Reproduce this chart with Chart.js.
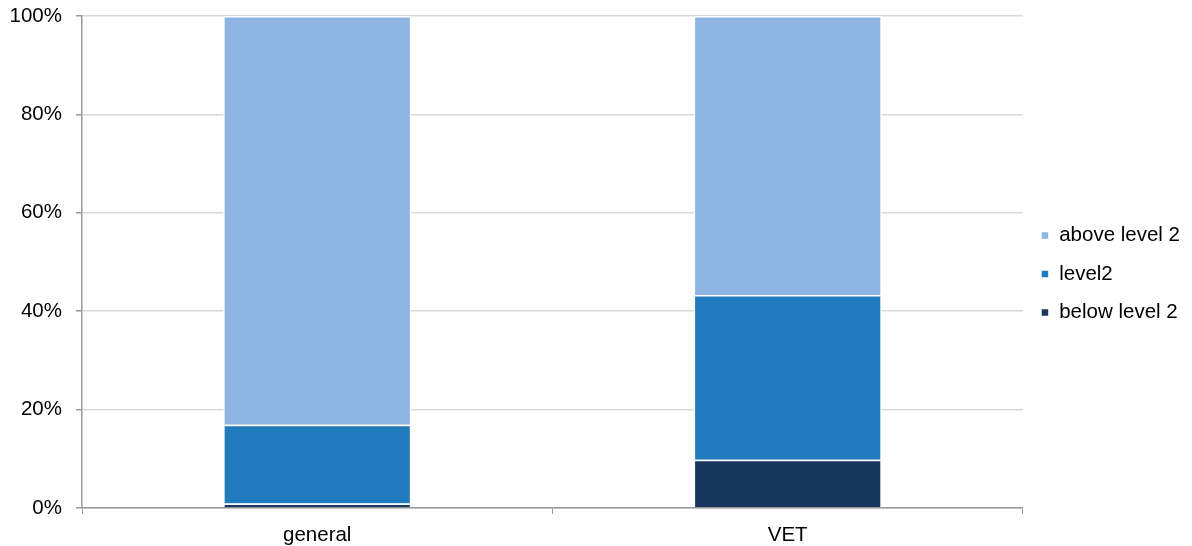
<!DOCTYPE html>
<html>
<head>
<meta charset="utf-8">
<script src="https://cdn.jsdelivr.net/npm/chart.js@4/dist/chart.umd.min.js"></script>
<style>
  html, body { margin: 0; padding: 0; background: #fff; }
  #wrap { width: 1192px; height: 546px; position: relative; }
</style>
</head>
<body>
<div id="wrap"><canvas id="c"></canvas></div>
<script>
  // ── data ─────────────────────────────
  const categories = ['general', 'VET'];
  const seriesNames = ['below level 2', 'level2', 'above level 2'];
  const belowLevel2 = [0.9, 9.8];
  const level2 = [16.0, 33.5];
  const aboveLevel2 = [83.1, 56.7];
  const seriesColors = ['#17375e', '#1f7bbb', '#8eb4e3'];
  const yTicks = [0, 20, 40, 60, 80, 100];

  const FONT = { family: '"Liberation Sans", Arial, sans-serif', size: 20.5 };

  const datasets = [belowLevel2, level2, aboveLevel2].map((vals, i) => ({
    label: seriesNames[i],
    data: vals,
    backgroundColor: seriesColors[i],
    borderColor: '#ffffff',
    borderWidth: 1.5,
    barPercentage: 0.4,
    categoryPercentage: 1,
  }));

  // legend sits a bit above the full-height centre in the original
  const legendNudge = {
    id: 'legendNudge',
    afterLayout(chart) { if (chart.legend) chart.legend.bottom -= 14; },
  };

  new Chart(document.getElementById('c'), {
    type: 'bar',
    data: { labels: categories, datasets },
    plugins: [legendNudge],
    options: {
      responsive: true, maintainAspectRatio: false, animation: false,
      layout: { padding: { top: 16, right: 2, left: 0, bottom: 0 } },
      plugins: {
        tooltip: { enabled: false },
        legend: {
          position: 'right',
          reverse: true,
          labels: {
            color: '#000', font: FONT,
            boxWidth: 8, boxHeight: 8, padding: 18,
          },
        },
      },
      scales: {
        x: {
          stacked: true,
          grid: { offset: true, drawOnChartArea: false, color: '#999', tickLength: 6 },
          border: { color: '#999', width: 1.5 },
          ticks: { color: '#000', font: FONT, padding: 9 },
          afterFit: s => { s.height = 38; s.paddingLeft = 0; s.paddingRight = 0; },
        },
        y: {
          stacked: true, min: 0, max: 100,
          afterBuildTicks: s => { s.ticks = yTicks.map(v => ({ value: v })); },
          grid: { color: '#d9d9d9', lineWidth: 1.5, tickColor: '#999', tickLength: 6 },
          border: { color: '#999', width: 1.5 },
          ticks: { color: '#000', font: FONT, padding: 14, callback: v => v + '%' },
          afterFit: s => { s.width = 82; s.paddingTop = 0; s.paddingBottom = 0; },
        },
      },
    },
  });
</script>
</body>
</html>
